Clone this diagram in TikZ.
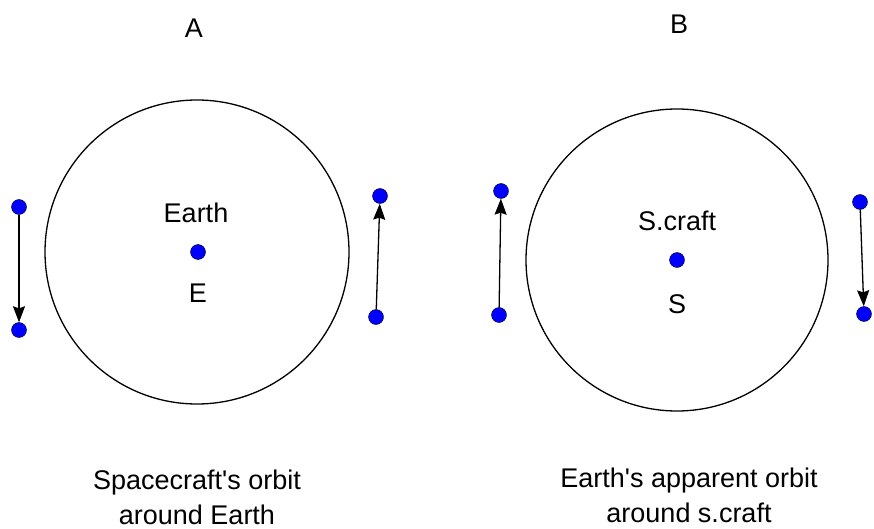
\documentclass[tikz,border=0pt]{standalone}
\usepackage{fontspec}
\setmainfont{Liberation Sans}
\usetikzlibrary{arrows.meta}

\begin{document}
\begin{tikzpicture}[x=1pt, y=-1pt,
        dot/.style={circle, draw=black, fill=blue, minimum size=15pt, inner sep=0pt},
        orbit/.style={circle, draw=black, line width=1.3pt, inner sep=0pt},
        arrow/.style={-{Stealth[length=16pt, width=12pt, inset=2pt]}, line width=1.3pt},
        lbl/.style={font=\fontsize{27}{35}\selectfont, align=center, inner sep=0pt}
    ]
        \useasboundingbox (0,0) rectangle (874,529);

        % panel A
        \node[orbit, minimum size=304pt] (orbA) at (197,252) {};
        \node[dot] (earth) at (198,252) {};
        \node[lbl] (titleA) at (194,28)  {A};
        \node[lbl] (earthlbl) at (196,213) {Earth};
        \node[lbl] (elbl) at (198,293) {E};
        \node[dot] (a1) at (19,207) {};
        \node[dot] (a2) at (19,330) {};
        \node[dot] (a3) at (376,317) {};
        \node[dot] (a4) at (380,196) {};
        \draw[arrow] (a1) -- (a2);
        \draw[arrow] (a3) -- (a4);
        \node[lbl] (captA) at (197,497) {Spacecraft\textquotesingle s orbit\\around Earth};

        % panel B
        \node[orbit, minimum size=302pt] (orbB) at (677,260) {};
        \node[dot] (craft) at (677,260) {};
        \node[lbl] (titleB) at (679,24)  {B};
        \node[lbl] (craftlbl) at (677,221) {S.craft};
        \node[lbl] (slbl) at (677,304) {S};
        \node[dot] (b1) at (499,315) {};
        \node[dot] (b2) at (501,191) {};
        \node[dot] (b3) at (860,202) {};
        \node[dot] (b4) at (864,314) {};
        \draw[arrow] (b1) -- (b2);
        \draw[arrow] (b3) -- (b4);
        \node[lbl] (captB) at (689,495) {Earth\textquotesingle s apparent orbit\\around s.craft};
    \end{tikzpicture}
\end{document}
